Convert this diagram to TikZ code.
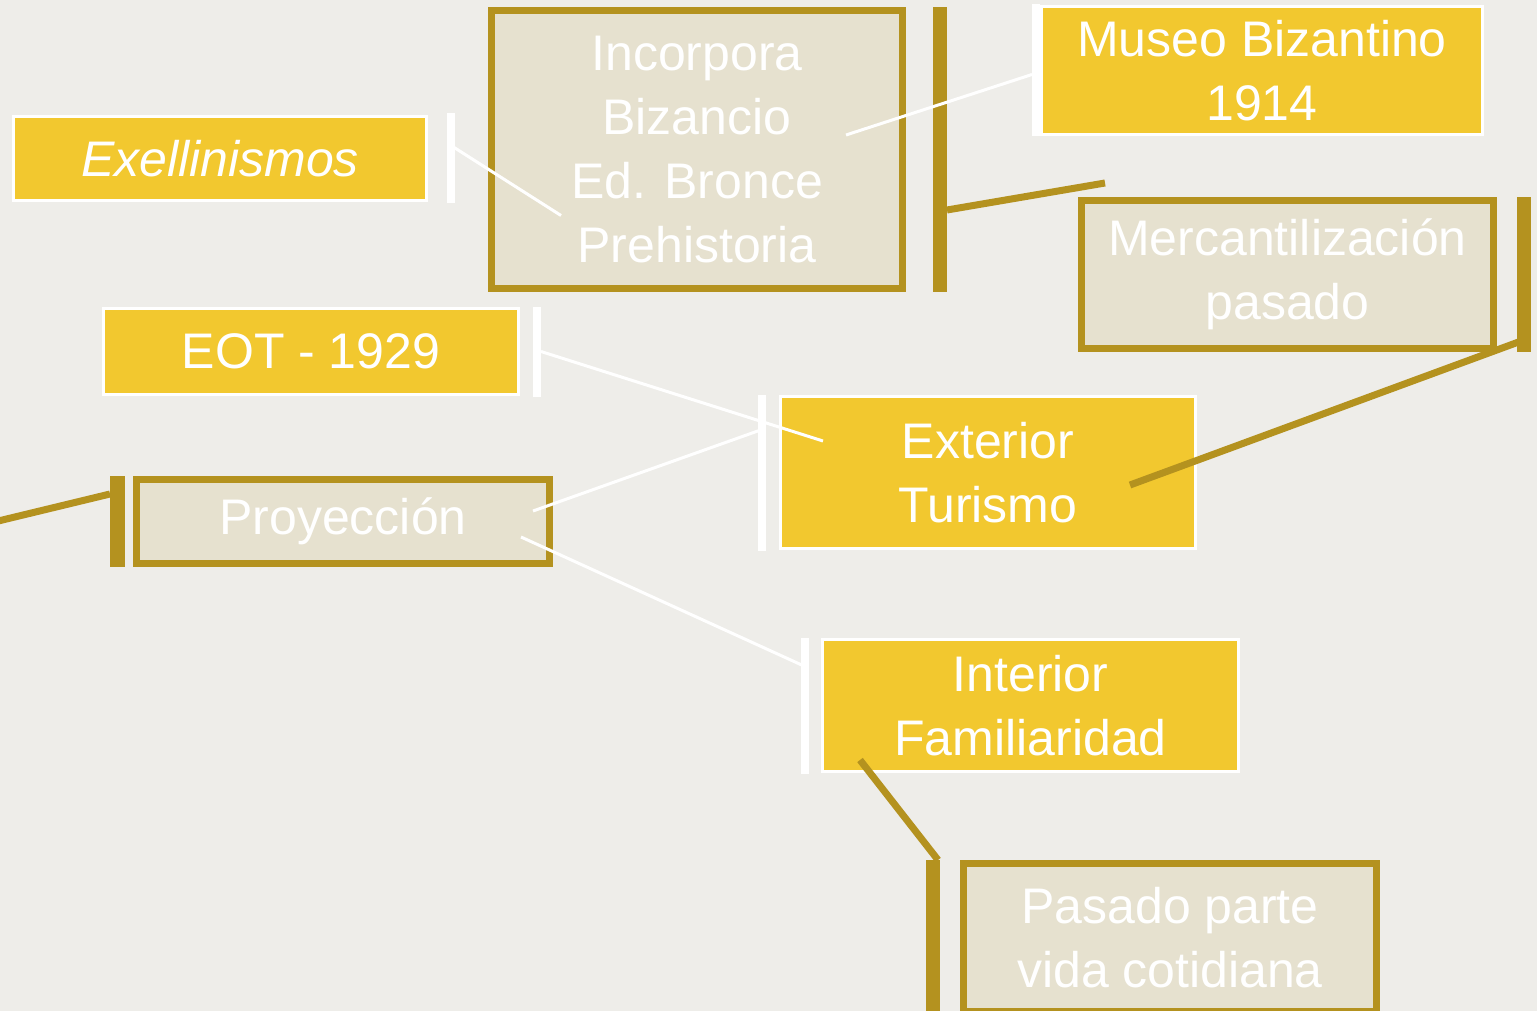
\documentclass[tikz,border=0pt]{standalone}
\usepackage{fontspec}
\setmainfont{Liberation Sans}
\usetikzlibrary{positioning}
\definecolor{boxyellow}{HTML}{F2C82F}
\definecolor{boxgold}{HTML}{B4921F}
\definecolor{boxbeige}{HTML}{E6E1CF}
\definecolor{backdrop}{HTML}{EEEDE9}
\begin{document}
\begin{tikzpicture}[x=1pt, y=-1pt,
        yellowbox/.style={rectangle, draw=white, line width=3pt, fill=boxyellow, text=white, align=center, inner sep=0pt, font=\fontsize{50}{64}\selectfont},
        beigebox/.style={rectangle, draw=boxgold, line width=7pt, fill=boxbeige, text=white, align=center, inner sep=0pt, font=\fontsize{50}{64}\selectfont},
        whitebar/.style={rectangle, fill=white, minimum width=8pt, inner sep=0pt, outer sep=0pt},
        goldbar/.style={rectangle, fill=boxgold, minimum width=14pt, inner sep=0pt, outer sep=0pt},
        whiteline/.style={draw=white, line width=3pt},
        goldline/.style={draw=boxgold, line width=7pt},
    ]

\fill[backdrop] (0,0) rectangle (1537,1011);
\useasboundingbox (0,0) rectangle (1537,1011);

\node[yellowbox, minimum width=413pt, minimum height=84pt] (Exellinismos) at (220,158.5) {\itshape Exellinismos};
\node[whitebar, minimum height=90pt, right=19pt of Exellinismos] (ExellinismosBar) {};

\node[beigebox, minimum width=411pt, minimum height=278pt] (Incorpora) at (697,149.5) {Incorpora\\Bizancio\\Ed. Bronce\\Prehistoria};
\node[goldbar, minimum height=285pt, right=27pt of Incorpora] (IncorporaBar) {};

\node[yellowbox, minimum width=441pt, minimum height=128pt] (Museo) at (1262,70.5) {Museo Bizantino\\1914};
\node[whitebar, minimum height=132pt, left=0pt of Museo] (MuseoBar) {};

\node[beigebox, minimum width=412pt, minimum height=148pt] (Mercantil) at (1287.5,274.5) {Mercantilización\\pasado};
\node[goldbar, minimum height=155pt, right=20pt of Mercantil] (MercantilBar) {};

\node[yellowbox, minimum width=415pt, minimum height=86pt] (EOT) at (311,351.5) {EOT - 1929};
\node[whitebar, minimum height=90pt, right=13pt of EOT] (EOTBar) {};

\node[yellowbox, minimum width=415pt, minimum height=152pt] (Exterior) at (988,472.5) {Exterior\\Turismo};
\node[whitebar, minimum height=156pt, left=13pt of Exterior] (ExteriorBar) {};

\node[beigebox, minimum width=413pt, minimum height=84pt] (Proyeccion) at (343,521.5) {Proyección};
\node[goldbar, minimum width=15pt, minimum height=91pt, left=8pt of Proyeccion] (ProyeccionBar) {};

\node[yellowbox, minimum width=416pt, minimum height=132pt] (Interior) at (1030.5,705.5) {Interior\\Familiaridad};
\node[whitebar, minimum height=136pt, left=12pt of Interior] (InteriorBar) {};

\node[beigebox, minimum width=413pt, minimum height=148pt] (Pasado) at (1170,937.5) {Pasado parte\\vida cotidiana};
\node[goldbar, minimum height=155pt, left=20pt of Pasado] (PasadoBar) {};

\coordinate (MercantilTip) at (1105,183);
\coordinate (LeftTip) at (-10,523);

\draw[whiteline] ([yshift=13pt]ExellinismosBar.center) -- ([xshift=-136pt, yshift=-66pt]Incorpora.center);
\draw[whiteline] ([xshift=149pt, yshift=14.5pt]Incorpora.center) -- ([yshift=-4pt]MuseoBar.west);
\draw[goldline] ([yshift=-60.5pt]IncorporaBar.east) -- (MercantilTip);
\draw[goldline] ([yshift=-65.5pt]MercantilBar.center) -- ([xshift=142pt, yshift=-12.5pt]Exterior.center);
\draw[whiteline] (EOTBar.east) -- ([xshift=-165pt, yshift=31.5pt]Exterior.center);
\draw[whiteline] ([yshift=43pt]ExteriorBar.center) -- ([xshift=190pt, yshift=10.5pt]Proyeccion.center);
\draw[goldline] ([yshift=27.5pt]ProyeccionBar.west) -- (LeftTip);
\draw[whiteline] ([xshift=178pt, yshift=-15.5pt]Proyeccion.center) -- ([yshift=39pt]InteriorBar.center);
\draw[goldline] ([xshift=-170.5pt, yshift=-54.5pt]Interior.center) -- ([xshift=5pt]PasadoBar.north);
\end{tikzpicture}
\end{document}
